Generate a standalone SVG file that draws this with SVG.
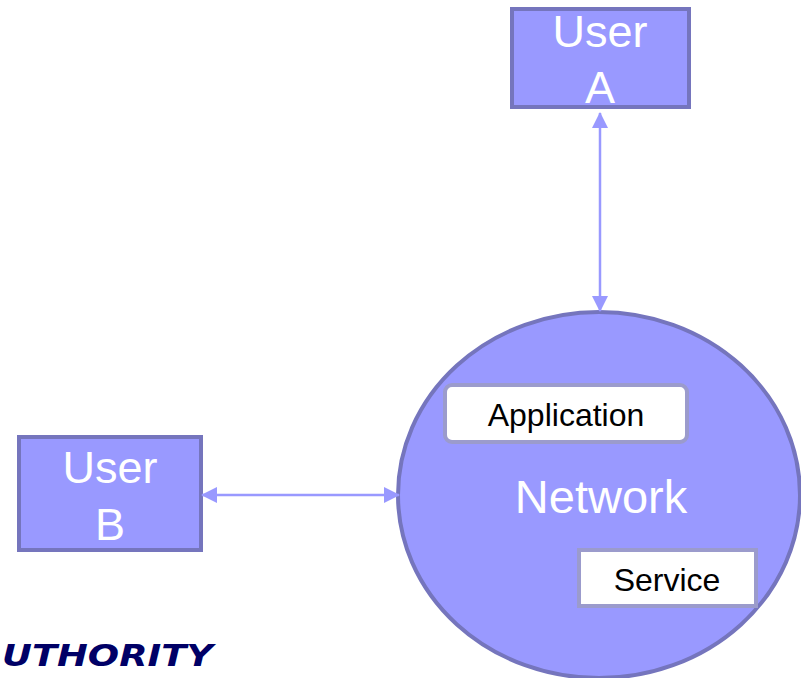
<svg xmlns="http://www.w3.org/2000/svg" width="801" height="678" viewBox="0 0 801 678">
<style>
.user{fill:#9999FF;stroke:#7575BD;stroke-width:4}
.utext{font-family:"Liberation Sans",Arial,sans-serif;font-size:45px;fill:#FFFFFF;text-anchor:middle}
.inner{fill:#FFFFFF;stroke:#9B9BCC;stroke-width:4}
.itext{font-family:"Liberation Sans",Arial,sans-serif;font-size:32px;fill:#000000;text-anchor:middle}
.conn{stroke:#9999FF;stroke-width:2.5;fill:none}
</style>
<defs>
<marker id="ah" markerUnits="userSpaceOnUse" markerWidth="16" markerHeight="16" viewBox="0 0 16 16" refX="15" refY="8" orient="auto-start-reverse">
<path d="M0,0 L16,8 L0,16 Z" fill="#9999FF"/>
</marker>
</defs>
<rect width="801" height="678" fill="#FFFFFF"/>
<g id="network">
<ellipse cx="599" cy="495" rx="201" ry="183" fill="#9999FF" stroke="#7575BD" stroke-width="4"/>
<text x="601" y="513" style="font-family:'Liberation Sans',Arial,sans-serif;font-size:47px;fill:#FFFFFF;text-anchor:middle">Network</text>
</g>
<g id="application">
<rect class="inner" x="445" y="385" width="242" height="57" rx="7"/>
<text class="itext" x="566" y="426">Application</text>
</g>
<g id="service">
<rect class="inner" x="579" y="550" width="177" height="56"/>
<text class="itext" x="667" y="591">Service</text>
</g>
<g id="userA">
<rect class="user" x="512" y="9" width="177" height="98"/>
<text class="utext" x="600" y="47">User</text>
<text class="utext" x="600" y="103">A</text>
</g>
<g id="userB">
<rect class="user" x="19" y="437" width="182" height="113"/>
<text class="utext" x="110" y="483">User</text>
<text class="utext" x="110" y="540">B</text>
</g>
<g id="connectors">
<line class="conn" x1="600" y1="113" x2="600" y2="311" marker-start="url(#ah)" marker-end="url(#ah)"/>
<line class="conn" x1="202" y1="495" x2="399" y2="495" marker-start="url(#ah)" marker-end="url(#ah)"/>
</g>
<text x="2" y="666" textLength="211" lengthAdjust="spacingAndGlyphs" style="font-family:'DejaVu Sans',Verdana,sans-serif;font-weight:bold;font-style:italic;font-size:30px;fill:#000066">UTHORITY</text>
</svg>
